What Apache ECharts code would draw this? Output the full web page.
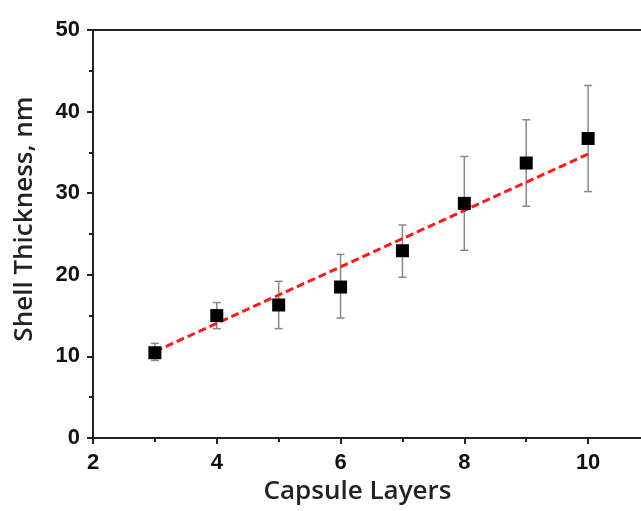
<!DOCTYPE html>
<html><head><meta charset="utf-8">
<script src="https://cdn.jsdelivr.net/npm/echarts@6/dist/echarts.min.js"></script>
<style>html,body{margin:0;padding:0;background:#fff}#c{width:641px;height:511px}</style>
</head><body><div id="c"></div>
<script>
const layers = [3, 4, 5, 6, 7, 8, 9, 10];
const thickness = [10.45, 15.0, 16.3, 18.5, 22.95, 28.75, 33.7, 36.7];
const errLow = [9.5, 13.4, 13.4, 14.7, 19.7, 23.0, 28.4, 30.2];
const errHigh = [11.6, 16.6, 19.2, 22.5, 26.1, 34.5, 39.0, 43.2];
const fitLine = [[3, 10.6], [10, 34.8]];
const xTicks = [2, 4, 6, 8, 10];
const yTicks = [0, 10, 20, 30, 40, 50];

const chart = echarts.init(document.getElementById('c'), null, {renderer: 'canvas'});
const tickFont = {fontFamily: 'Liberation Sans', fontWeight: 'bold', fontSize: 22, color: '#111'};
const titleFont = {fontFamily: 'Open Sans', fontWeight: 600, fontSize: 26, color: '#222'};
const axisLine = {show: true, onZero: false, lineStyle: {color: '#222', width: 2}};
chart.setOption({
  animation: false,
  backgroundColor: '#fff',
  grid: {left: 93, top: 30, width: 557, height: 408, outerBoundsMode: 'none', containLabel: false},
  xAxis: [{
    type: 'value', min: 2, max: 11, interval: 2,
    name: 'Capsule Layers', nameLocation: 'middle', nameGap: 41,
    nameTextStyle: Object.assign({padding: [0, 28, 0, 0]}, titleFont),
    axisLine: axisLine,
    axisTick: {show: true, length: 6, inside: false, lineStyle: {color: '#222', width: 2}},
    minorTick: {show: true, splitNumber: 2, length: 4, lineStyle: {color: '#222', width: 2}},
    splitLine: {show: false},
    axisLabel: Object.assign({margin: 14, formatter: v => xTicks.includes(v) ? String(v) : ''}, tickFont)
  }, {
    type: 'value', min: 2, max: 11, position: 'top',
    axisLine: axisLine, axisTick: {show: false}, axisLabel: {show: false}, splitLine: {show: false}
  }],
  yAxis: [{
    type: 'value', min: 0, max: 50, interval: 10,
    name: 'Shell Thickness, nm', nameLocation: 'middle', nameGap: 55,
    nameTextStyle: Object.assign({padding: [0, 0, 0, 30]}, titleFont),
    axisLine: axisLine,
    axisTick: {show: true, length: 6, inside: false, lineStyle: {color: '#222', width: 2}},
    minorTick: {show: true, splitNumber: 2, length: 4, lineStyle: {color: '#222', width: 2}},
    splitLine: {show: false},
    axisLabel: Object.assign({margin: 13, formatter: v => yTicks.includes(v) ? String(v) : ''}, tickFont)
  }, {
    type: 'value', min: 0, max: 50, position: 'right',
    axisLine: axisLine, axisTick: {show: false}, axisLabel: {show: false}, splitLine: {show: false}
  }],
  series: [{
    type: 'custom',
    data: layers.map((x, i) => [x, errLow[i], errHigh[i]]),
    renderItem: function (params, api) {
      const lo = api.coord([api.value(0), api.value(1)]);
      const hi = api.coord([api.value(0), api.value(2)]);
      const w = 4;
      const st = {stroke: '#888', lineWidth: 1.5};
      return {type: 'group', children: [
        {type: 'line', shape: {x1: lo[0], y1: lo[1], x2: hi[0], y2: hi[1]}, style: st},
        {type: 'line', shape: {x1: lo[0] - w, y1: lo[1], x2: lo[0] + w, y2: lo[1]}, style: st},
        {type: 'line', shape: {x1: hi[0] - w, y1: hi[1], x2: hi[0] + w, y2: hi[1]}, style: st}
      ]};
    },
    z: 1
  }, {
    type: 'line', data: fitLine, symbol: 'none',
    lineStyle: {color: '#ff1a1a', width: 3, type: [8, 4]}, z: 2
  }, {
    type: 'scatter', data: layers.map((x, i) => [x, thickness[i]]),
    symbol: 'rect', symbolSize: 13, itemStyle: {color: '#000', opacity: 1}, z: 3
  }]
});
</script></body></html>
